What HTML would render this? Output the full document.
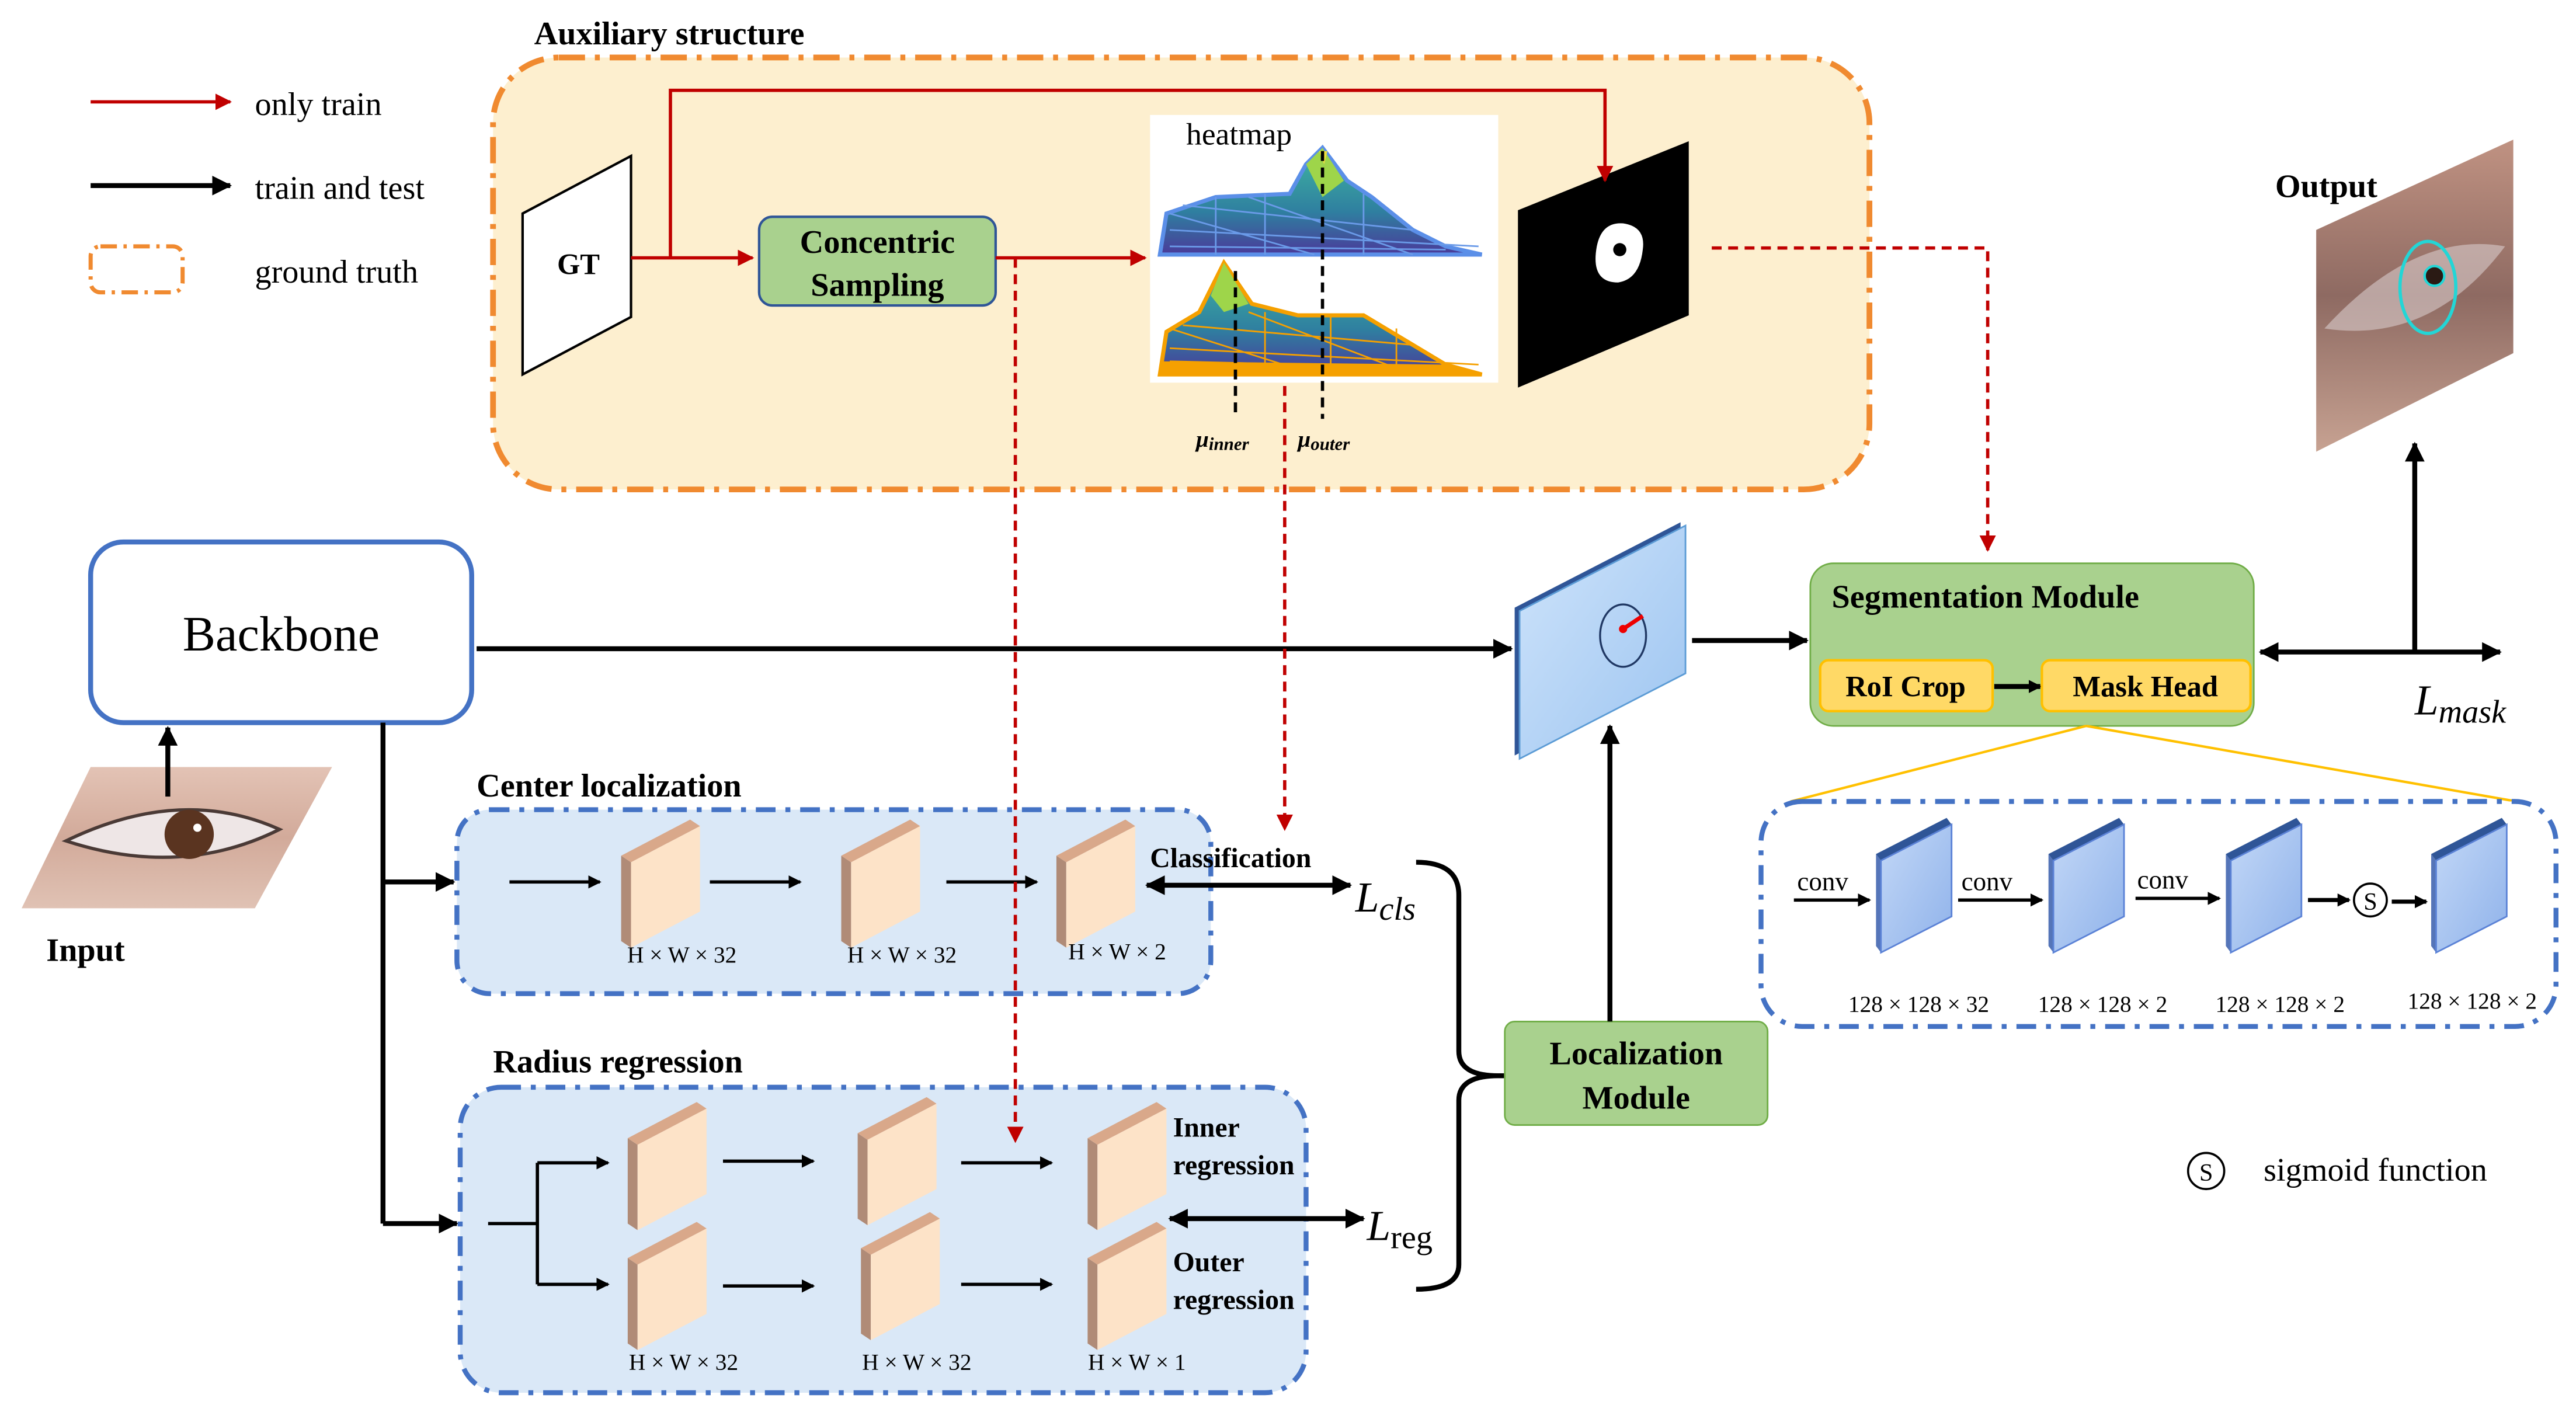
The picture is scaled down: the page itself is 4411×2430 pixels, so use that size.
<!DOCTYPE html>
<html><head><meta charset="utf-8"><style>html,body{margin:0;padding:0;background:#fff}svg{display:block}svg text{font-family:"Liberation Serif","DejaVu Serif",serif}</style></head><body>
<svg width="4411" height="2430" viewBox="0 0 1568 864" xmlns="http://www.w3.org/2000/svg" font-family="Liberation Serif, DejaVu Serif, serif">
<defs>
<marker id="ab" markerWidth="8" markerHeight="8" refX="7" refY="4" orient="auto" markerUnits="userSpaceOnUse"><path d="M0,0 L8,4 L0,8 z" fill="#000"/></marker>
<marker id="abs" markerWidth="12" markerHeight="12" refX="11" refY="6" orient="auto-start-reverse" markerUnits="userSpaceOnUse"><path d="M0,0 L12,6 L0,12 z" fill="#000"/></marker>
<marker id="ar" markerWidth="10" markerHeight="10" refX="9" refY="5" orient="auto" markerUnits="userSpaceOnUse"><path d="M0,0 L10,5 L0,10 z" fill="#c00000"/></marker>
<linearGradient id="fb" x1="0" y1="0" x2="1" y2="1"><stop offset="0" stop-color="#c3d8f7"/><stop offset="1" stop-color="#8fb2ea"/></linearGradient>
<linearGradient id="fm" x1="0" y1="0" x2="1" y2="1"><stop offset="0" stop-color="#cfe4fb"/><stop offset="1" stop-color="#9cc4f0"/></linearGradient>
<linearGradient id="hb" x1="0" y1="0" x2="0" y2="1"><stop offset="0" stop-color="#3fb8a0"/><stop offset="0.6" stop-color="#2f7fa0"/><stop offset="1" stop-color="#4a3a9a"/></linearGradient>
<linearGradient id="eye" x1="0" y1="0" x2="0" y2="1"><stop offset="0" stop-color="#e3c3b5"/><stop offset="0.5" stop-color="#d2aa9a"/><stop offset="1" stop-color="#e0c2b4"/></linearGradient>
<linearGradient id="oeye" x1="0" y1="0" x2="0" y2="1"><stop offset="0" stop-color="#c09282"/><stop offset="0.5" stop-color="#8e6a62"/><stop offset="1" stop-color="#c7a292"/></linearGradient>
<g id="ob"><polygon points="0,18 6,22 6,74 0,70" fill="#b08b77"/><polygon points="0,18 42,-4 48,0 6,22" fill="#d9a88a"/><polygon points="6,22 48,0 48,52 6,74" fill="#fde3c8"/></g>
<g id="bb"><polygon points="0,20 3,24 3,80 0,76" fill="#5575b8"/><polygon points="0,20 43,-2 46,2 3,24" fill="#2f5597"/><polygon points="3,24 46,2 46,58 3,80" fill="url(#fb)" stroke="#5b82d6" stroke-width="1"/></g>
</defs>

<!-- legend -->
<line x1="55" y1="62" x2="140" y2="62" stroke="#c00000" stroke-width="2" marker-end="url(#ar)"/>
<text x="155" y="70" font-size="20">only train</text>
<line x1="55" y1="113" x2="140" y2="113" stroke="#000" stroke-width="3" marker-end="url(#abs)"/>
<text x="155" y="121" font-size="20">train and test</text>
<rect x="55" y="150" width="56" height="28" rx="6" fill="none" stroke="#f08a30" stroke-width="2.5" stroke-dasharray="10,4,2,4"/>
<text x="155" y="172" font-size="20">ground truth</text>

<!-- auxiliary -->
<text x="325" y="27" font-size="20" font-weight="bold">Auxiliary structure</text>
<rect x="300" y="35" width="838" height="263" rx="40" fill="#fdefcf" stroke="#f08a30" stroke-width="3.5" stroke-dasharray="16,6,3,6"/>
<polygon points="318,130 384,95 384,193 318,228" fill="#fff" stroke="#000" stroke-width="1.5"/>
<text x="352" y="167" font-size="18" font-weight="bold" text-anchor="middle">GT</text>
<rect x="462" y="132" width="144" height="54" rx="8" fill="#a9d18e" stroke="#2f5597" stroke-width="1.5"/>
<text x="534" y="154" font-size="20" font-weight="bold" text-anchor="middle">Concentric</text>
<text x="534" y="180" font-size="20" font-weight="bold" text-anchor="middle">Sampling</text>
<rect x="700" y="70" width="212" height="163" fill="#fff"/>
<text x="722" y="88" font-size="19">heatmap</text>
<polygon points="706,155 710,130 740,120 785,118 795,100 805,90 820,110 835,120 860,140 880,150 902,155" fill="url(#hb)" stroke="#5b8fe8" stroke-width="2.5"/>
<polygon points="795,100 805,90 818,110 805,120" fill="#9ed54a"/>
<polygon points="803,92 808,92 806,100" fill="#f0e040"/>
<polygon points="706,228 710,202 730,190 745,160 762,185 790,192 830,192 860,210 880,222 902,228" fill="url(#hb)" stroke="#f5a000" stroke-width="2.5"/>
<polygon points="737,180 745,160 760,185 745,190" fill="#9ed54a"/>
<polygon points="706,228 902,228 880,222 706,220" fill="#f5a000"/>
<path d="M712,140 L900,150 M712,150 L880,152 M720,125 L860,140 M740,120 L740,155 M770,118 L770,155 M830,118 L830,155 M712,130 L800,155 M760,120 L860,155" stroke="#6a9ae8" stroke-width="1" fill="none"/>
<path d="M712,212 L900,222 M712,220 L880,224 M720,198 L860,210 M770,190 L770,228 M810,192 L810,228 M850,200 L850,228 M712,200 L800,228 M760,190 L860,228" stroke="#f5a000" stroke-width="1" fill="none"/>
<line x1="752" y1="165" x2="752" y2="255" stroke="#000" stroke-width="2" stroke-dasharray="6,4"/>
<line x1="805" y1="92" x2="805" y2="255" stroke="#000" stroke-width="2" stroke-dasharray="6,4"/>
<text x="728" y="272" font-size="14" font-weight="bold" font-style="italic">μ<tspan font-size="11" dy="2">inner</tspan></text>
<text x="790" y="272" font-size="14" font-weight="bold" font-style="italic">μ<tspan font-size="11" dy="2">outer</tspan></text>
<polygon points="924,128 1028,86 1028,192 924,236" fill="#000"/>
<path d="M972,150 Q975,135 988,136 Q1002,138 1000,152 Q998,170 985,172 Q968,172 972,150 z" fill="#fff"/>
<circle cx="986" cy="152" r="4" fill="#000"/>

<!-- backbone -->
<rect x="55" y="330" width="232" height="110" rx="20" fill="#fff" stroke="#4472c4" stroke-width="3"/>
<text x="171" y="396" font-size="30" text-anchor="middle">Backbone</text>
<polygon points="13,553 55,467 202,467 155,553" fill="url(#eye)"/>
<path d="M40,512 Q110,478 170,505 Q110,535 40,512 z" fill="#eee6e6" stroke="#4a3a36" stroke-width="2"/>
<circle cx="115" cy="508" r="15" fill="#5a3420"/>
<circle cx="120" cy="504" r="2.5" fill="#fff"/>
<line x1="102" y1="485" x2="102" y2="443" stroke="#000" stroke-width="3" marker-end="url(#abs)"/>
<text x="28" y="585" font-size="20" font-weight="bold">Input</text>

<line x1="290" y1="395" x2="920" y2="395" stroke="#000" stroke-width="3" marker-end="url(#abs)"/>
<polygon points="922,370 1023,318 1023,408 922,460" fill="#2f5597"/>
<polygon points="925,372 1026,320 1026,410 925,462" fill="url(#fm)" stroke="#5b9bd5" stroke-width="1"/>
<ellipse cx="988" cy="387" rx="14" ry="19" fill="none" stroke="#203864" stroke-width="1.2"/>
<line x1="988" y1="383" x2="1000" y2="375" stroke="#e00" stroke-width="2.5"/>
<circle cx="988" cy="383" r="2.5" fill="#e00"/>
<line x1="1030" y1="390" x2="1100" y2="390" stroke="#000" stroke-width="3" marker-end="url(#abs)"/>

<!-- segmentation -->
<rect x="1102" y="343" width="270" height="99" rx="14" fill="#a9d18e" stroke="#70ad47" stroke-width="1"/>
<text x="1115" y="370" font-size="20" font-weight="bold">Segmentation Module</text>
<rect x="1108" y="402" width="105" height="31" rx="5" fill="#ffd966" stroke="#ffc000" stroke-width="1.5"/>
<text x="1160" y="424" font-size="18" font-weight="bold" text-anchor="middle">RoI Crop</text>
<line x1="1214" y1="418" x2="1242" y2="418" stroke="#000" stroke-width="3" marker-end="url(#ab)"/>
<rect x="1243" y="402" width="127" height="31" rx="5" fill="#ffd966" stroke="#ffc000" stroke-width="1.5"/>
<text x="1306" y="424" font-size="18" font-weight="bold" text-anchor="middle">Mask Head</text>
<line x1="1376" y1="397" x2="1522" y2="397" stroke="#000" stroke-width="3" marker-start="url(#abs)" marker-end="url(#abs)"/>
<line x1="1470" y1="397" x2="1470" y2="270" stroke="#000" stroke-width="3" marker-end="url(#abs)"/>
<text x="1470" y="435" font-size="26" font-style="italic">L<tspan font-size="20" dy="5">mask</tspan></text>
<polygon points="1410,140 1530,85 1530,215 1410,275" fill="url(#oeye)"/>
<path d="M1415,200 Q1470,140 1525,150 Q1480,210 1415,200 z" fill="#d8cccc" opacity="0.6"/>
<ellipse cx="1478" cy="175" rx="17" ry="28" fill="none" stroke="#22d6d6" stroke-width="2"/>
<circle cx="1482" cy="168" r="6" fill="#2a1a14" stroke="#22d6d6" stroke-width="1.5"/>
<text x="1385" y="120" font-size="20" font-weight="bold">Output</text>
<line x1="1270" y1="442" x2="1090" y2="488" stroke="#ffc000" stroke-width="1.5"/>
<line x1="1270" y1="442" x2="1532" y2="488" stroke="#ffc000" stroke-width="1.5"/>
<rect x="1072" y="488" width="484" height="137" rx="25" fill="#fff" stroke="#4472c4" stroke-width="3" stroke-dasharray="12,6,3,6"/>
<use href="#bb" x="1142" y="500"/>
<use href="#bb" x="1247" y="500"/>
<use href="#bb" x="1355" y="500"/>
<use href="#bb" x="1480" y="500"/>
<line x1="1092" y1="548" x2="1138" y2="548" stroke="#000" stroke-width="2" marker-end="url(#ab)"/>
<text x="1094" y="542" font-size="16">conv</text>
<line x1="1192" y1="548" x2="1243" y2="548" stroke="#000" stroke-width="2" marker-end="url(#ab)"/>
<text x="1194" y="542" font-size="16">conv</text>
<line x1="1300" y1="547" x2="1351" y2="547" stroke="#000" stroke-width="2" marker-end="url(#ab)"/>
<text x="1301" y="541" font-size="16">conv</text>
<line x1="1405" y1="548" x2="1430" y2="548" stroke="#000" stroke-width="2.5" marker-end="url(#ab)"/>
<circle cx="1443" cy="548" r="10" fill="#fff" stroke="#000" stroke-width="1.3"/>
<text x="1443" y="554" font-size="15" text-anchor="middle">S</text>
<line x1="1456" y1="549" x2="1477" y2="549" stroke="#000" stroke-width="2.5" marker-end="url(#ab)"/>
<text x="1168" y="616" font-size="14" text-anchor="middle">128 × 128 × 32</text>
<text x="1280" y="616" font-size="14" text-anchor="middle">128 × 128 × 2</text>
<text x="1388" y="616" font-size="14" text-anchor="middle">128 × 128 × 2</text>
<text x="1505" y="614" font-size="14" text-anchor="middle">128 × 128 × 2</text>
<circle cx="1343" cy="713" r="11" fill="#fff" stroke="#000" stroke-width="1.3"/>
<text x="1343" y="719" font-size="15" text-anchor="middle">S</text>
<text x="1378" y="719" font-size="20">sigmoid function</text>

<!-- backbone branch -->
<polyline points="233,440 233,745" fill="none" stroke="#000" stroke-width="3"/>
<line x1="233" y1="537" x2="276" y2="537" stroke="#000" stroke-width="3" marker-end="url(#abs)"/>
<line x1="233" y1="745" x2="278" y2="745" stroke="#000" stroke-width="3" marker-end="url(#abs)"/>

<!-- center localization -->
<text x="290" y="485" font-size="20" font-weight="bold">Center localization</text>
<rect x="278" y="493" width="459" height="112" rx="20" fill="#dae8f7" stroke="#4472c4" stroke-width="3" stroke-dasharray="12,6,3,6"/>
<use href="#ob" x="378" y="503"/>
<use href="#ob" x="512" y="503"/>
<use href="#ob" x="643" y="503"/>
<line x1="310" y1="537" x2="365" y2="537" stroke="#000" stroke-width="2" marker-end="url(#ab)"/>
<line x1="432" y1="537" x2="487" y2="537" stroke="#000" stroke-width="2" marker-end="url(#ab)"/>
<line x1="576" y1="537" x2="631" y2="537" stroke="#000" stroke-width="2" marker-end="url(#ab)"/>
<text x="415" y="586" font-size="14" text-anchor="middle">H × W × 32</text>
<text x="549" y="586" font-size="14" text-anchor="middle">H × W × 32</text>
<text x="680" y="584" font-size="14" text-anchor="middle">H × W × 2</text>
<text x="700" y="528" font-size="17" font-weight="bold">Classification</text>
<line x1="698" y1="539" x2="822" y2="539" stroke="#000" stroke-width="3" marker-start="url(#abs)" marker-end="url(#abs)"/>
<text x="825" y="555" font-size="26" font-style="italic">L<tspan font-size="20" dy="5">cls</tspan></text>

<!-- radius regression -->
<text x="300" y="653" font-size="20" font-weight="bold">Radius regression</text>
<rect x="280" y="662" width="515" height="186" rx="25" fill="#dae8f7" stroke="#4472c4" stroke-width="3" stroke-dasharray="12,6,3,6"/>
<use href="#ob" x="382" y="675"/>
<use href="#ob" x="522" y="672"/>
<use href="#ob" x="662" y="675"/>
<use href="#ob" x="382" y="748"/>
<use href="#ob" x="524" y="742"/>
<use href="#ob" x="662" y="748"/>
<line x1="297" y1="745" x2="327" y2="745" stroke="#000" stroke-width="2"/>
<line x1="327" y1="708" x2="327" y2="782" stroke="#000" stroke-width="2"/>
<line x1="327" y1="708" x2="370" y2="708" stroke="#000" stroke-width="2" marker-end="url(#ab)"/>
<line x1="327" y1="782" x2="370" y2="782" stroke="#000" stroke-width="2" marker-end="url(#ab)"/>
<line x1="440" y1="707" x2="495" y2="707" stroke="#000" stroke-width="2" marker-end="url(#ab)"/>
<line x1="585" y1="708" x2="640" y2="708" stroke="#000" stroke-width="2" marker-end="url(#ab)"/>
<line x1="440" y1="783" x2="495" y2="783" stroke="#000" stroke-width="2" marker-end="url(#ab)"/>
<line x1="585" y1="782" x2="640" y2="782" stroke="#000" stroke-width="2" marker-end="url(#ab)"/>
<text x="714" y="692" font-size="17" font-weight="bold">Inner</text>
<text x="714" y="715" font-size="17" font-weight="bold">regression</text>
<text x="714" y="774" font-size="17" font-weight="bold">Outer</text>
<text x="714" y="797" font-size="17" font-weight="bold">regression</text>
<line x1="712" y1="742" x2="830" y2="742" stroke="#000" stroke-width="3" marker-start="url(#abs)" marker-end="url(#abs)"/>
<text x="832" y="755" font-size="26" font-style="italic">L<tspan font-size="20" dy="5" font-style="normal">reg</tspan></text>
<text x="416" y="834" font-size="14" text-anchor="middle">H × W × 32</text>
<text x="558" y="834" font-size="14" text-anchor="middle">H × W × 32</text>
<text x="692" y="834" font-size="14" text-anchor="middle">H × W × 1</text>

<!-- red connectors (on top) -->
<polyline points="408,157 408,55 977,55 977,110" fill="none" stroke="#c00000" stroke-width="2" marker-end="url(#ar)"/>
<line x1="384" y1="157" x2="458" y2="157" stroke="#c00000" stroke-width="2" marker-end="url(#ar)"/>
<line x1="606" y1="157" x2="697" y2="157" stroke="#c00000" stroke-width="2" marker-end="url(#ar)"/>
<polyline points="1042,151 1210,151 1210,335" fill="none" stroke="#c00000" stroke-width="2" stroke-dasharray="6,4" marker-end="url(#ar)"/>
<line x1="618" y1="157" x2="618" y2="695" stroke="#c00000" stroke-width="2" stroke-dasharray="6,4" marker-end="url(#ar)"/>
<line x1="782" y1="235" x2="782" y2="505" stroke="#c00000" stroke-width="2" stroke-dasharray="6,4" marker-end="url(#ar)"/>

<!-- brace -->
<path d="M862,525 Q888,525 888,545 L888,640 Q888,655 912,655 Q888,655 888,670 L888,770 Q888,785 862,785" fill="none" stroke="#000" stroke-width="3"/>
<line x1="912" y1="655" x2="916" y2="655" stroke="#000" stroke-width="3"/>
<rect x="916" y="622" width="160" height="63" rx="6" fill="#a9d18e" stroke="#70ad47" stroke-width="1"/>
<text x="996" y="648" font-size="20" font-weight="bold" text-anchor="middle">Localization</text>
<text x="996" y="675" font-size="20" font-weight="bold" text-anchor="middle">Module</text>
<line x1="980" y1="622" x2="980" y2="442" stroke="#000" stroke-width="3" marker-end="url(#abs)"/>
</svg>
</body></html>
